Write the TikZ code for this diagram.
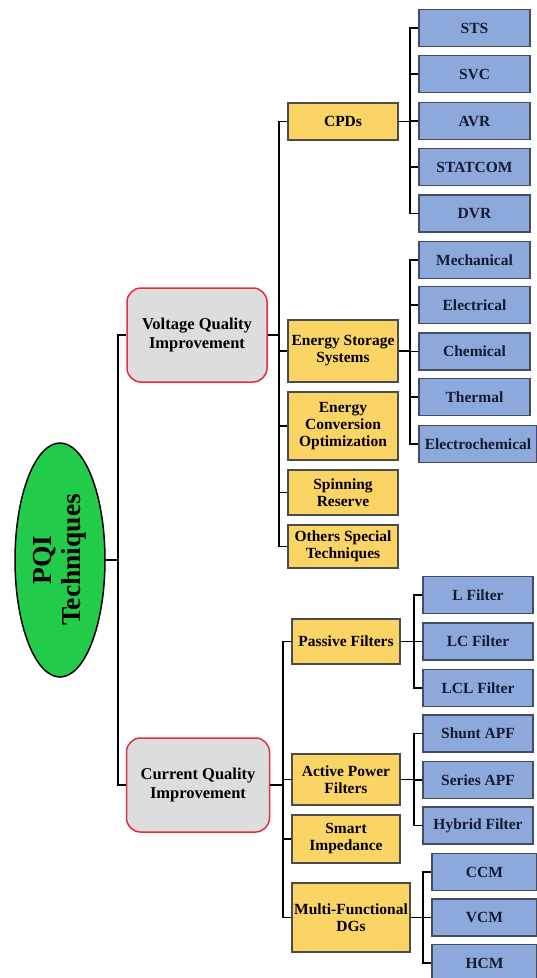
\documentclass[tikz,border=0pt]{standalone}
\usepackage{fontspec}
\setmainfont{Liberation Serif}
\usetikzlibrary{shapes.geometric}
\definecolor{rootgreen}{HTML}{22CC4A}
\definecolor{topgray}{HTML}{DDDDDD}
\definecolor{topred}{HTML}{E0303E}
\definecolor{midyellow}{HTML}{FBD466}
\definecolor{leafblue}{HTML}{8DA9DB}
\definecolor{leafedge}{HTML}{454C60}
\definecolor{leaftext}{HTML}{141C33}

\tikzset{
  box/.style={draw, line width=1.2pt, align=center, inner sep=1pt,
    font=\fontsize{15.5}{17}\selectfont\bfseries},
  toplevel/.style={box, draw=topred, fill=topgray, rounded corners=14pt, line width=1.5pt,
    minimum width=140pt, minimum height=94pt, font=\fontsize{16.5}{19}\selectfont\bfseries},
  midlevel/.style={box, draw=black!70, fill=midyellow, minimum width=110pt, minimum height=37pt},
  leaf/.style={box, draw=leafedge, fill=leafblue, text=leaftext, minimum width=111pt, minimum height=37pt},
  branch/.style={line width=1.8pt}
}

\begin{document}
\begin{tikzpicture}[x=1pt, y=-1pt]
  \useasboundingbox (0,0) rectangle (537,978);

  % Wurzel
  \node[ellipse, draw, line width=1.5pt, fill=rootgreen, minimum width=90pt, minimum height=234pt,
    inner sep=0pt, font=\fontsize{27.5}{29}\selectfont\bfseries] (pqi) at (60,560)
    {\rotatebox{90}{\begin{tabular}{@{}c@{}}PQI\\Techniques\end{tabular}}};

  % Hauptzweige
  \node[toplevel] (vqi) at (197,335) {Voltage Quality\\Improvement};
  \node[toplevel, minimum width=143pt] (cqi) at (198,785) {Current Quality\\Improvement};

  % Spannungsqualitaet
  \node[midlevel] (cpd) at (343,121.5) {CPDs};
  \node[midlevel, minimum height=62pt] (ess) at (343,351) {Energy Storage\\Systems};
  \node[midlevel, minimum height=68pt] (eco) at (343,426) {Energy\\Conversion\\Optimization};
  \node[midlevel, minimum height=45pt] (spin) at (343,492.5) {Spinning\\Reserve};
  \node[midlevel, minimum height=43pt] (oth) at (343,546.5) {Others Special\\Techniques};

  \node[leaf] (sts) at (474.5,28) {STS};
  \node[leaf] (svc) at (474.5,74) {SVC};
  \node[leaf] (avr) at (474.5,121) {AVR};
  \node[leaf] (stat) at (474.5,167) {STATCOM};
  \node[leaf] (dvr) at (474.5,213.5) {DVR};

  \node[leaf] (mech) at (474.5,260) {Mechanical};
  \node[leaf] (elec) at (474.5,305) {Electrical};
  \node[leaf] (chem) at (474.5,351.5) {Chemical};
  \node[leaf] (therm) at (474.5,397) {Thermal};
  \node[leaf, minimum width=118pt] (echem) at (478,444) {Electrochemical};

  % Stromqualitaet
  \node[midlevel, minimum width=108pt, minimum height=45pt] (pas) at (346,641.5) {Passive Filters};
  \node[midlevel, minimum width=108pt, minimum height=51pt] (apf) at (346,779.5) {Active Power\\Filters};
  \node[midlevel, minimum width=108pt, minimum height=48pt] (smart) at (346,839) {Smart\\Impedance};
  \node[midlevel, minimum width=118pt, minimum height=69pt] (mfd) at (351,917.5) {Multi-Functional\\DGs};

  \node[leaf, minimum width=110pt] (lf) at (478,595) {L Filter};
  \node[leaf, minimum width=110pt] (lcf) at (478,641.5) {LC Filter};
  \node[leaf, minimum width=110pt] (lclf) at (478,688) {LCL Filter};
  \node[leaf, minimum width=110pt] (shunt) at (478,733.5) {Shunt APF};
  \node[leaf, minimum width=110pt] (series) at (478,780) {Series APF};
  \node[leaf, minimum width=110pt] (hybrid) at (478,825.5) {Hybrid Filter};

  \node[leaf, minimum width=105pt] (ccm) at (484.5,872) {CCM};
  \node[leaf, minimum width=105pt] (vcm) at (484.5,917.5) {VCM};
  \node[leaf, minimum width=105pt] (hcm) at (484.5,963) {HCM};

  % Verbindungen
  \foreach \c in {vqi,cqi}
    \draw[branch] (pqi.east) -- ++(12,0) |- (\c.west);
  \foreach \c in {cpd,ess,eco,spin,oth}
    \draw[branch] (vqi.east) -- ++(11,0) |- (\c.west);
  \foreach \c in {sts,svc,avr,stat,dvr}
    \draw[branch] (cpd.east) -- ++(11,0) |- (\c.west);
  \foreach \c in {mech,elec,chem,therm,echem}
    \draw[branch] (ess.east) -- ++(11,0) |- (\c.west);
  \foreach \c in {pas,apf,smart,mfd}
    \draw[branch] (cqi.east) -- ++(12.5,0) |- (\c.west);
  \foreach \c in {lf,lcf,lclf}
    \draw[branch] (pas.east) -- ++(13,0) |- (\c.west);
  \foreach \c in {shunt,series,hybrid}
    \draw[branch] (apf.east) -- ++(13,0) |- (\c.west);
  \foreach \c in {ccm,vcm,hcm}
    \draw[branch] (mfd.east) -- ++(12,0) |- (\c.west);
\end{tikzpicture}
\end{document}
